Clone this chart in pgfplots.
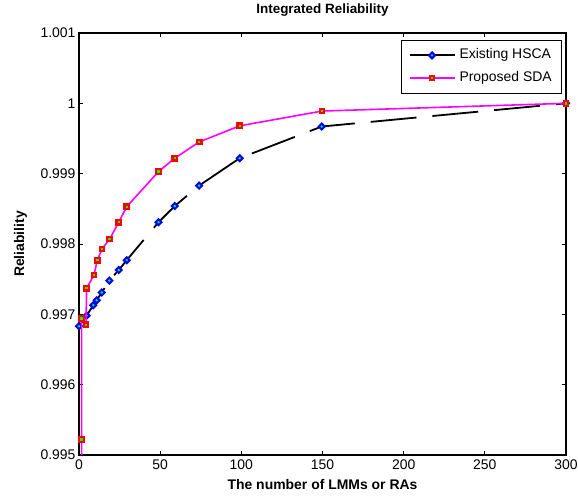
\documentclass[border=0pt]{standalone}
\usepackage{fontspec}
\setmainfont{Liberation Sans}
\usepackage{pgfplots}
\pgfplotsset{compat=1.18}
\definecolor{mblue}{RGB}{0,0,255}
\definecolor{mgreen}{RGB}{0,255,0}
\definecolor{mred}{RGB}{255,0,0}
\definecolor{mmag}{RGB}{255,0,255}
\begin{document}
\begin{tikzpicture}
\begin{axis}[
  name=ax,
  scale only axis,
  width=487bp, height=422bp,
  xmin=0, xmax=300, ymin=0.995, ymax=1.001,
  xtick={0,50,100,150,200,250,300},
  xticklabels={0,50,100,150,200,250,300},
  ytick={0.995,0.996,0.997,0.998,0.999,1,1.001},
  yticklabels={0.995,0.996,0.997,0.998,0.999,1,1.001},
  scaled y ticks=false,
  tick align=inside,
  major tick length=4bp,
  tick style={black, line width=0.8bp},
  axis line style={line width=1.2bp},
  ticklabel style={font=\fontsize{14}{16}\selectfont},
  xticklabel style={yshift=-1bp},
  clip mode=individual,
  title={\textbf{Integrated Reliability}},
  title style={font=\fontsize{13.5}{16}\selectfont, at={(axis description cs:0.5,1)}, anchor=base, yshift=14bp},
  xlabel={\textbf{The number of LMMs or RAs}},
  xlabel style={font=\fontsize{14}{16}\selectfont, at={(axis description cs:0.5,0)}, anchor=base, yshift=-35bp},
  ylabel={\textbf{Reliability}},
  ylabel style={font=\fontsize{14}{16}\selectfont, at={(axis description cs:-0.1129,0.5)}, anchor=base},
  legend cell align=left,
  legend style={name=lgd, at={(rel axis cs:0.9897,0.9834)}, anchor=north east, draw=none,
    font=\fontsize{14}{16}\selectfont, inner xsep=7bp, inner ysep=5.7bp, row sep=3.6bp, column sep=2bp,
    nodes={inner xsep=2bp, inner ysep=3bp, text height=10bp, text depth=3bp}},
]
\addplot[black, line width=1.8bp, dash pattern=on 46bp off 16bp,
  mark=square*, mark size=2.1bp,
  mark options={solid, rotate=45, draw=mblue, fill=mgreen, line width=2bp},
  legend image code/.code={
    \draw[line width=2bp, mark repeat=2,mark phase=2] plot coordinates {(0bp,0bp) (22.5bp,0bp) (45bp,0bp)};
  }]
coordinates {
(0,0.99683) (4.7,0.99698) (8.8,0.99713) (10.9,0.99720) (14,0.99731) (18.7,0.99748)
(24.5,0.99763) (29.4,0.99777) (49,0.99831) (59,0.99854) (74,0.99883) (99,0.99922)
(149.5,0.99967) (300,1.0000)
};
\addlegendentry{Existing HSCA}
\addplot[mmag, line width=1.6bp, forget plot]
coordinates {(1.5,0.9940) (1.6,0.99522)};
\addplot[mmag, line width=1.6bp,
  mark=square*, mark size=2.3bp,
  mark options={solid, draw=mred, fill=mgreen, line width=2.2bp},
  legend image code/.code={
    \draw[line width=1.8bp, mark repeat=2,mark phase=2] plot coordinates {(0bp,0bp) (22.5bp,0bp) (45bp,0bp)};
  }]
coordinates {
(1.6,0.99522) (1.6,0.99694) (4.3,0.99685) (4.7,0.99737) (9.2,0.99756) (11.3,0.99777)
(14.2,0.99793) (18.9,0.99807) (24.5,0.99831) (29.4,0.99853) (49,0.99903) (59,0.99922)
(74,0.99945) (99,0.99968) (149.7,0.99989) (300,1.0000)
};
\addlegendentry{Proposed SDA}
\end{axis}
\draw[line width=0.8bp] (lgd.south west) rectangle (lgd.north east);
\pgfresetboundingbox
\path ([shift={(-79bp,-44bp)}]ax.south west) rectangle ([shift={(12bp,33bp)}]ax.north east);
\end{tikzpicture}
\end{document}
